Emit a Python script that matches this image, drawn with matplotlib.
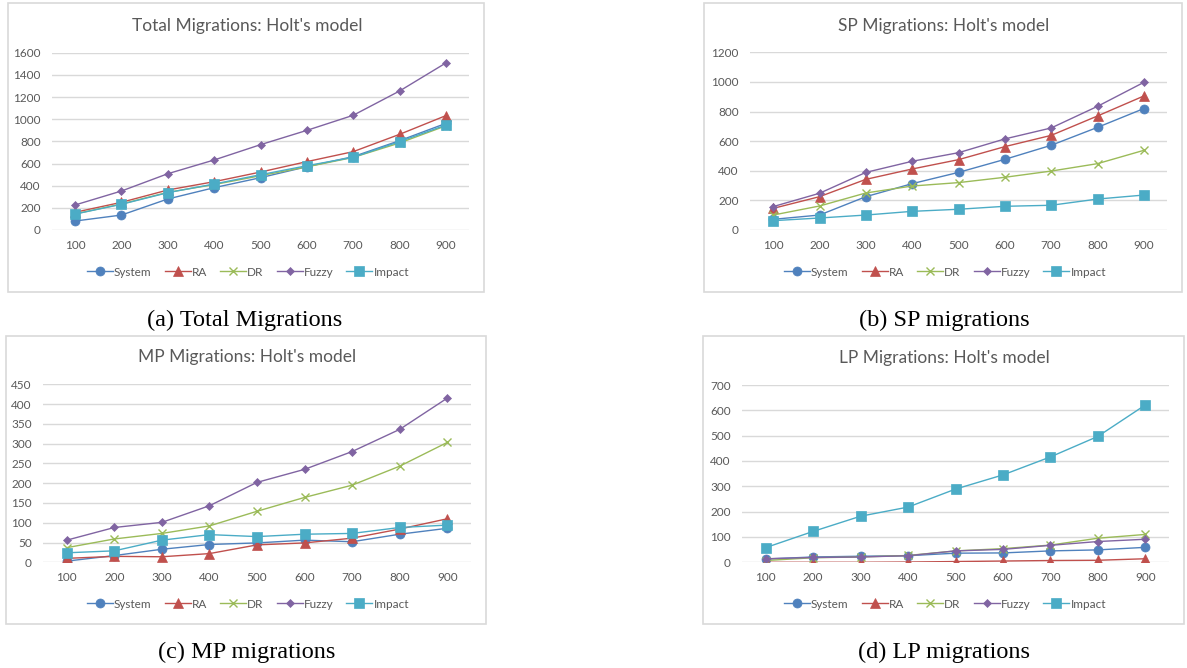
import matplotlib
matplotlib.use("Agg")
import matplotlib.pyplot as plt
from matplotlib.patches import Rectangle

categories = ["100", "200", "300", "400", "500", "600", "700", "800", "900"]
series_names = ["System", "RA", "DR", "Fuzzy", "Impact"]

total_system = [81, 135, 280, 382, 472, 571, 662, 806, 962]
total_ra = [160, 250, 361, 436, 523, 617, 707, 863, 1032]
total_dr = [145, 235, 340, 410, 490, 570, 655, 785, 940]
total_fuzzy = [226, 352, 508, 632, 770, 899, 1035, 1254, 1507]
total_impact = [144, 232, 337, 415, 499, 580, 656, 797, 947]

sp_system = [72, 101, 225, 313, 389, 477, 572, 693, 820]
sp_ra = [146, 225, 342, 412, 475, 563, 639, 770, 905]
sp_dr = [101, 162, 250, 297, 320, 356, 398, 448, 538]
sp_fuzzy = [158, 248, 389, 464, 522, 615, 689, 835, 997]
sp_impact = [63, 81, 101, 126, 140, 160, 167, 209, 236]

mp_system = [3, 17, 33, 45, 49, 56, 52, 71, 86]
mp_ra = [10, 15, 14, 22, 44, 49, 61, 84, 110]
mp_dr = [37, 59, 73, 92, 129, 164, 195, 243, 303]
mp_fuzzy = [56, 88, 101, 143, 202, 235, 280, 336, 415]
mp_impact = [24, 29, 56, 70, 65, 71, 73, 88, 94]

lp_system = [13, 21, 24, 26, 36, 37, 45, 49, 59]
lp_ra = [0, 0, 0, 1, 3, 5, 7, 8, 14]
lp_dr = [7, 18, 21, 27, 45, 54, 68, 95, 110]
lp_fuzzy = [14, 19, 21, 26, 45, 51, 67, 82, 91]
lp_impact = [58, 122, 182, 218, 289, 345, 416, 497, 621]

titles = ["Total Migrations: Holt's model", "SP Migrations: Holt's model",
          "MP Migrations: Holt's model", "LP Migrations: Holt's model"]
captions = ["(a) Total Migrations", "(b) SP migrations",
            "(c) MP migrations", "(d) LP migrations"]
yticks_list = [list(range(0, 1601, 200)), list(range(0, 1201, 200)),
               list(range(0, 451, 50)), list(range(0, 701, 100))]

colors = ["#4F81BD", "#C0504D", "#9BBB59", "#8064A2", "#4BACC6"]
markers = ["o", "^", "x", "D", "s"]
msizes = [6.5, 6.5, 6, 4.5, 6.5]

W, H = 1187, 668
fig = plt.figure(figsize=(W / 100, H / 100), dpi=100)
FONT = "Lato"
GRAY = "#595959"
GRID = "#D9D9D9"

def fx(px):
    return px / W

def fy(py):
    return 1 - py / H

panels = [
    dict(data=[total_system, total_ra, total_dr, total_fuzzy, total_impact],
         grid=(52, 469, 52.7, 230), box=(8, 3, 484, 292), title_y=26, leg_y=272, leg_x=248, cap=(245, 320)),
    dict(data=[sp_system, sp_ra, sp_dr, sp_fuzzy, sp_impact],
         grid=(750, 1167, 52.3, 230), box=(704, 3, 1182, 292), title_y=26, leg_y=272, leg_x=945, cap=(944, 320)),
    dict(data=[mp_system, mp_ra, mp_dr, mp_fuzzy, mp_impact],
         grid=(43, 471, 384.3, 562.3), box=(6, 336, 486, 624), title_y=357, leg_y=604, leg_x=248, cap=(247, 652)),
    dict(data=[lp_system, lp_ra, lp_dr, lp_fuzzy, lp_impact],
         grid=(742, 1169, 385, 562.3), box=(703, 336, 1184, 624), title_y=358, leg_y=604, leg_x=945, cap=(944, 652)),
]

for i, p in enumerate(panels):
    x0, x1, ytop, ybot = p["grid"]
    ax = fig.add_axes([fx(x0), fy(ybot), fx(x1 - x0), (ybot - ytop) / H])
    yt = yticks_list[i]
    xs = list(range(len(categories)))
    handles = []
    for k, name in enumerate(series_names):
        h, = ax.plot(xs, p["data"][k], color=colors[k], lw=1.0, marker=markers[k],
                     markersize=msizes[k], markeredgewidth=1.0 if markers[k] == "x" else 0.5,
                     markeredgecolor=colors[k], label=name, zorder=3 + k)
        handles.append(h)
    ax.set_xlim(-0.5, len(categories) - 0.5)
    ax.set_ylim(yt[0], yt[-1])
    ax.set_yticks(yt)
    ax.set_xticks(xs)
    ax.set_xticklabels(categories)
    ax.grid(axis="y", color=GRID, lw=1.0)
    ax.set_axisbelow(True)
    for s in ax.spines.values():
        s.set_visible(False)
    ax.tick_params(length=0, colors=GRAY, labelsize=8.5)
    ax.tick_params(axis="y", pad=8)
    ax.tick_params(axis="x", pad=7)
    for lab in ax.get_xticklabels() + ax.get_yticklabels():
        lab.set_fontfamily(FONT)
    ax.set_facecolor("none")

    bx0, by0, bx1, by1 = p["box"]
    fig.patches.append(Rectangle((fx(bx0), fy(by1)), fx(bx1 - bx0), (by1 - by0) / H,
                                 transform=fig.transFigure, fill=False,
                                 edgecolor=GRID, lw=1.2, zorder=0))
    fig.text(fx((bx0 + bx1) / 2 + 1), fy(p["title_y"]), titles[i], ha="center", va="center",
             fontsize=12.5, color=GRAY, fontfamily=FONT)
    leg = fig.legend(handles=handles, loc="center", ncol=5,
                     bbox_to_anchor=(fx(p["leg_x"]), fy(p["leg_y"])),
                     frameon=False, handlelength=2.2, columnspacing=1.1,
                     handletextpad=0.1, borderaxespad=0, prop={"family": FONT, "size": 8.5})
    for t in leg.get_texts():
        t.set_color(GRAY)
    cx, cy = p["cap"]
    fig.text(fx(cx), fy(cy), captions[i], ha="center", va="center", fontsize=17.5,
             fontfamily="Liberation Serif", color="black")

fig.savefig("out.png", dpi=100, facecolor="white")
